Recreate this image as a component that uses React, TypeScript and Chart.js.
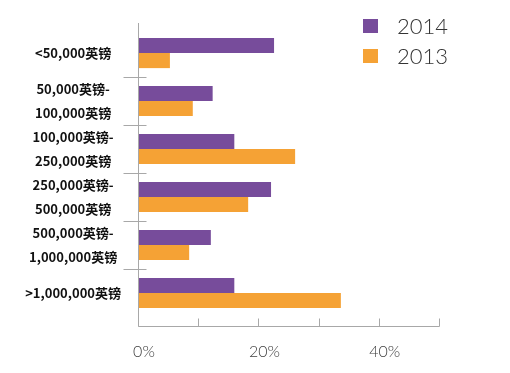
import React, { useEffect, useRef } from "react";
import { Chart, registerables } from "chart.js";

Chart.register(...registerables);

const categories: string[][] = [
  ["<50,000英镑"],
  ["50,000英镑-", "100,000英镑"],
  ["100,000英镑-", "250,000英镑"],
  ["250,000英镑-", "500,000英镑"],
  ["500,000英镑-", "1,000,000英镑"],
  [">1,000,000英镑"],
];
const seriesNames = ["2014", "2013"];
const series2014 = [22.6, 12.4, 16.0, 22.1, 12.1, 16.0];
const series2013 = [5.3, 9.1, 26.1, 18.3, 8.5, 33.7];
const xLabelValues = [0, 20, 40];
const xMax = 50;
const xStep = 10;

const PURPLE = "#774C9B";
const ORANGE = "#F5A235";
const AXIS = "#A8A8A8";

const axesPlugin = {
  id: "customAxes",
  afterDatasetsDraw(chart: any) {
    const { ctx, chartArea, scales } = chart;
    const xs = scales.x;
    const ys = scales.y;
    ctx.save();
    ctx.strokeStyle = AXIS;
    ctx.lineWidth = 1;
    const axisX = Math.round(chartArea.left) + 0.5;
    const axisY = Math.round(chartArea.bottom) + 9 + 0.5;
    ctx.beginPath();
    ctx.moveTo(axisX, chartArea.top - 6);
    ctx.lineTo(axisX, axisY);
    ctx.moveTo(axisX, axisY);
    ctx.lineTo(Math.round(chartArea.right) + 0.5, axisY);
    xs.ticks.forEach((_t: any, i: number) => {
      const px = Math.round(xs.getPixelForTick(i)) + 0.5;
      ctx.moveTo(px, axisY - 8);
      ctx.lineTo(px, axisY);
    });
    for (let i = 1; i < ys.ticks.length; i++) {
      const py = Math.round((ys.getPixelForTick(i - 1) + ys.getPixelForTick(i)) / 2) + 0.5;
      ctx.moveTo(axisX - 15, py);
      ctx.lineTo(axisX + 8, py);
    }
    ctx.stroke();
    ctx.restore();
  },
  afterDraw(chart: any) {
    const { ctx } = chart;
    ctx.save();
    chart.data.datasets.forEach((ds: any, i: number) => {
      const cy = 26 + i * 29.5;
      ctx.fillStyle = ds.backgroundColor;
      ctx.fillRect(363, Math.round(cy - 7), 15, 14);
      ctx.fillStyle = "#333333";
      ctx.font = "300 22px Lato";
      ctx.textBaseline = "alphabetic";
      ctx.textAlign = "left";
      ctx.fillText(ds.label, 397, Math.round(cy + 8));
    });
    ctx.restore();
  },
};

export default function App() {
  const ref = useRef<HTMLCanvasElement | null>(null);
  useEffect(() => {
    if (!ref.current) return;
    const chart = new Chart(ref.current, {
      type: "bar",
      data: {
        labels: categories,
        datasets: [
          { label: seriesNames[0], data: series2014, backgroundColor: PURPLE },
          { label: seriesNames[1], data: series2013, backgroundColor: ORANGE },
        ],
      },
      options: {
        indexAxis: "y",
        animation: false,
        responsive: false,
        devicePixelRatio: 1,
        layout: { padding: { top: 28, right: 71, left: 0, bottom: 0 } },
        datasets: { bar: { categoryPercentage: 0.63, barPercentage: 1.0 } },
        plugins: { legend: { display: false }, tooltip: { enabled: false } },
        scales: {
          x: {
            min: 0,
            max: xMax,
            grid: { display: false, drawTicks: false },
            border: { display: false },
            afterFit: (s: any) => { s.height = 56; },
            ticks: {
              stepSize: xStep,
              padding: 25,
              labelOffset: 6,
              maxRotation: 0,
              autoSkip: false,
              color: "#404040",
              font: { family: "Lato", weight: "300", size: 16 },
              callback: (v: any) => (xLabelValues.includes(Number(v)) ? `${v}%` : ""),
            },
          },
          y: {
            grid: { display: false, drawTicks: false },
            border: { display: false },
            afterFit: (s: any) => { s.width = 138; },
            ticks: {
              crossAlign: "center",
              padding: 17,
              autoSkip: false,
              color: "#111111",
              font: { family: "'Noto Sans CJK SC'", weight: "bold", size: 13, lineHeight: "24px" },
            },
          },
        },
      },
      plugins: [axesPlugin],
    } as any);
    return () => chart.destroy();
  }, []);
  return (
    <div style={{ position: "absolute", left: 0, top: 0, width: 510, height: 373, background: "#fff" }}>
      <canvas ref={ref} width={510} height={373} style={{ display: "block" }} />
    </div>
  );
}
